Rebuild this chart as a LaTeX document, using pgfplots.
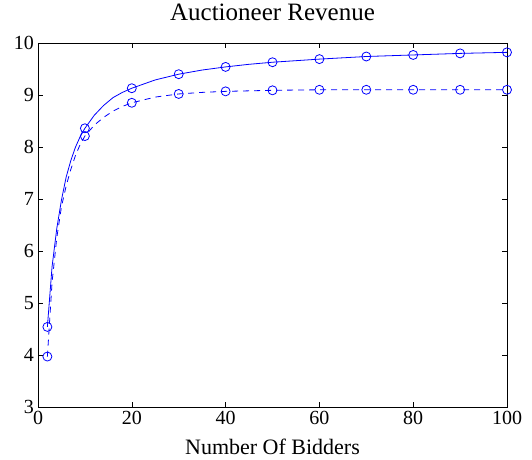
\documentclass[border=0pt]{standalone}
\usepackage{pgfplots}
\pgfplotsset{compat=1.18}
\usepackage{pgfplotstable}
\usepackage{fontspec}
\setmainfont{Liberation Serif}

\pgfplotstableread{
x y
2 4.54
3 5.70
4 6.43
5 6.98
6 7.42
7 7.74
8 8.00
9 8.20
10 8.36
12 8.61
14 8.80
16 8.95
18 9.05
20 9.13
25 9.29
30 9.40
35 9.48
40 9.54
45 9.59
50 9.63
60 9.69
70 9.74
80 9.77
90 9.80
100 9.82
}\solidline

\pgfplotstableread{
x y
2 3.97
3 5.40
4 6.25
5 6.85
6 7.25
7 7.57
8 7.84
9 8.05
10 8.21
12 8.42
14 8.57
16 8.69
18 8.78
20 8.85
25 8.96
30 9.02
35 9.05
40 9.07
50 9.09
60 9.10
70 9.10
80 9.10
90 9.10
100 9.10
}\dashedline

\pgfplotstableread{
x y
2 4.54
10 8.36
20 9.13
30 9.40
40 9.54
50 9.63
60 9.69
70 9.74
80 9.77
90 9.80
100 9.82
}\solidmarks

\pgfplotstableread{
x y
2 3.97
10 8.21
20 8.85
30 9.02
40 9.07
50 9.09
60 9.10
70 9.10
80 9.10
90 9.10
100 9.10
}\dashedmarks

\begin{document}
\begin{tikzpicture}
\begin{axis}[
  name=ax,
  scale only axis,
  width=469pt, height=364pt,
  xmin=0, xmax=100, ymin=3, ymax=10,
  xtick={0,20,...,100},
  ytick={3,4,...,10},
  tick align=inside,
  major tick length=5pt,
  tick style={black, line width=0.6pt},
  axis line style={black, line width=0.8pt},
  /pgf/number format/assume math mode=true,
  ticklabel style={font=\fontsize{20}{24}\selectfont},
  xticklabel style={anchor=base, yshift=-18pt, inner sep=0pt},
  yticklabel style={anchor=east, xshift=-4pt, inner sep=0pt},
  title={Auctioneer Revenue},
  title style={font=\fontsize{25}{30}\selectfont, at={(0.5,1)}, anchor=base, yshift=16pt, inner sep=0pt},
  xlabel={Number Of Bidders},
  xlabel style={font=\fontsize{22}{26}\selectfont, at={(0.5,0)}, anchor=base, yshift=-48pt, inner sep=0pt},
]
\addplot[blue, line width=0.8pt, no marks] table {\solidline};
\addplot[blue, line width=0.8pt, no marks, dash pattern=on 6pt off 5pt] table {\dashedline};
\addplot[blue, only marks, mark=o, mark size=4.5pt, mark options={line width=0.8pt}] table {\solidmarks};
\addplot[blue, only marks, mark=o, mark size=4.5pt, mark options={line width=0.8pt}] table {\dashedmarks};
\end{axis}
\pgfresetboundingbox
\path ([shift={(-38pt,-53pt)}]ax.south west) rectangle ([shift={(25pt,43pt)}]ax.north east);
\end{tikzpicture}
\end{document}
